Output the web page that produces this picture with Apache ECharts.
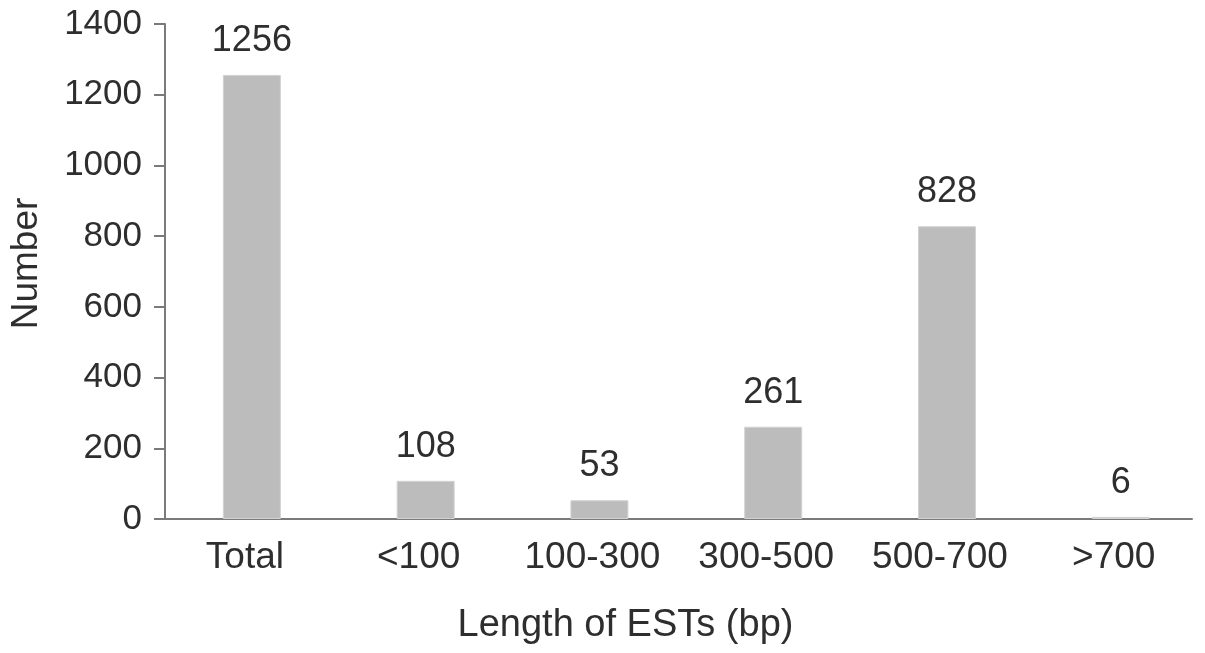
<!DOCTYPE html>
<html>
<head>
<meta charset="utf-8">
<script src="https://cdn.jsdelivr.net/npm/echarts@6/dist/echarts.min.js"></script>
<style>html,body{margin:0;padding:0;background:#fff}#c{width:1205px;height:653px}</style>
</head>
<body>
<div id="c"></div>
<script>
var categories = ['Total', '<100', '100-300', '300-500', '500-700', '>700'];
var counts = [1256, 108, 53, 261, 828, 6];
var yTicks = [0, 200, 400, 600, 800, 1000, 1200, 1400];

var FONT = '"Liberation Sans", Arial, sans-serif';
var TXT = '#2e2e2e';
var chart = echarts.init(document.getElementById('c'));
var barData = counts.map(function (v, i) { return [i, v]; });
chart.setOption({
  animation: false,
  grid: { left: 162, right: 13, top: 24, bottom: 134, containLabel: false },
  xAxis: {
    type: 'value', min: -0.5, max: 5.41,
    name: 'Length of ESTs (bp)', nameLocation: 'middle', nameGap: 88,
    nameTextStyle: { fontFamily: FONT, fontSize: 38, color: TXT, padding: [0, 106, 0, 0] },
    axisLine: { show: true, onZero: false, lineStyle: { color: '#7a7a7a', width: 2 } },
    axisTick: { show: false },
    splitLine: { show: false },
    axisLabel: {
      customValues: [0, 1, 2, 3, 4, 5],
      formatter: function (v) { return categories[Math.round(v)]; },
      fontFamily: FONT, fontSize: 37, color: TXT, margin: 20,
      padding: [0, 14, 0, 0]
    }
  },
  yAxis: {
    type: 'value', min: 0, max: 1400, interval: 200,
    name: 'Number', nameLocation: 'middle', nameGap: 120,
    nameTextStyle: { fontFamily: FONT, fontSize: 37, color: TXT, padding: [0, 0, 0, 16] },
    axisLine: { show: true, onZero: false, lineStyle: { color: '#7a7a7a', width: 2 } },
    axisTick: { show: true, length: 11, lineStyle: { color: '#7a7a7a', width: 2 } },
    splitLine: { show: false },
    axisLabel: {
      fontFamily: FONT, fontSize: 35, color: TXT, margin: 23,
      formatter: function (v) { return yTicks.indexOf(v) >= 0 ? String(v) : ''; }
    }
  },
  series: [{
    type: 'bar',
    data: barData,
    barWidth: 58,
    itemStyle: { color: '#bcbcbc', borderColor: '#d2d2d2', borderWidth: 1 },
    label: {
      show: true, position: 'top', distance: 16,
      formatter: function (p) { return String(p.value[1]); },
      fontFamily: FONT, fontSize: 36, color: TXT
    }
  }]
});
</script>
</body>
</html>
